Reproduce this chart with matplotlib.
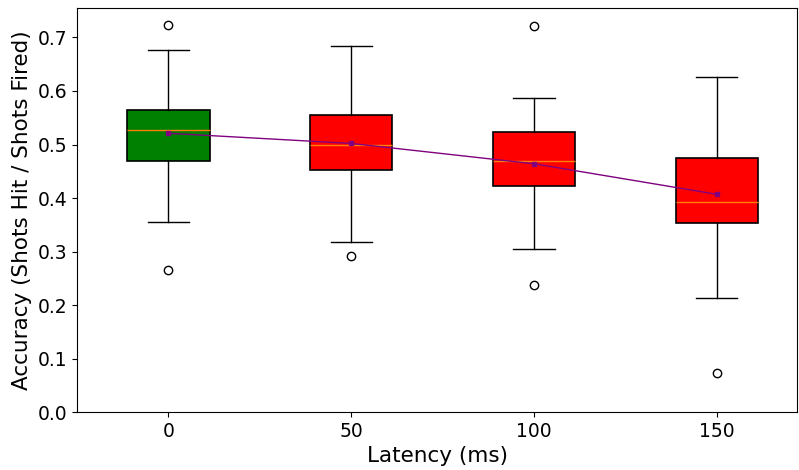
import matplotlib
matplotlib.use("Agg")
import matplotlib.pyplot as plt

# Latency conditions (ms)
latencies = [0, 50, 100, 150]
box_colors = ["green", "red", "red", "red"]

# Box statistics of accuracy per latency
q1 = [0.470, 0.452, 0.422, 0.354]
q3 = [0.564, 0.556, 0.523, 0.475]
medians = [0.528, 0.500, 0.469, 0.392]
means = [0.521, 0.502, 0.464, 0.407]
whisker_low = [0.355, 0.318, 0.305, 0.213]
whisker_high = [0.676, 0.684, 0.586, 0.627]
outliers = [[0.724, 0.265], [0.292], [0.722, 0.237], [0.074]]

stats = []
for i in range(len(latencies)):
    stats.append({
        "med": medians[i], "q1": q1[i], "q3": q3[i],
        "whislo": whisker_low[i], "whishi": whisker_high[i],
        "fliers": outliers[i], "mean": means[i],
    })

fig = plt.figure(figsize=(7.99, 4.70), dpi=100)
ax = fig.add_axes([0.0964, 0.123, 0.9013, 0.860])

bp = ax.bxp(stats, positions=latencies, widths=22.5, patch_artist=True,
            showfliers=True,
            boxprops=dict(edgecolor="black", linewidth=1.2),
            medianprops=dict(color="#ff7f0e", linewidth=1),
            whiskerprops=dict(color="black", linewidth=1),
            capprops=dict(color="black", linewidth=1),
            flierprops=dict(marker="o", markerfacecolor="none",
                            markeredgecolor="black", markersize=6))
for patch, c in zip(bp["boxes"], box_colors):
    patch.set_facecolor(c)

ax.plot(latencies, means, color="purple", linewidth=1, marker="s",
        markersize=3.5, zorder=5)

ax.set_xlim(-25, 172)
ax.set_ylim(0, 0.755)
ax.set_xticks(latencies)
ax.set_xticklabels([str(v) for v in latencies])
ax.set_yticks([0.0, 0.1, 0.2, 0.3, 0.4, 0.5, 0.6, 0.7])
ax.tick_params(labelsize=13.5)
ax.set_xlabel("Latency (ms)", fontsize=15.5)
ax.set_ylabel("Accuracy (Shots Hit / Shots Fired)", fontsize=15.5)

fig.savefig("out.png", dpi=100)
